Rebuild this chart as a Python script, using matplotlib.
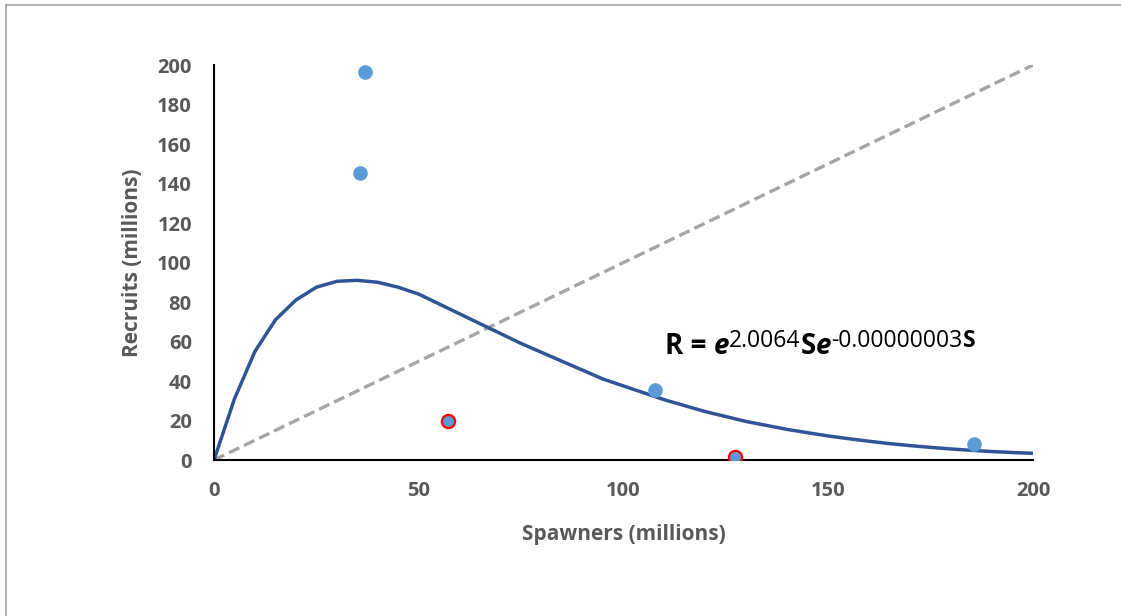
import matplotlib.pyplot as plt
from matplotlib.lines import Line2D

plt.rcParams['font.family'] = ['Open Sans', 'DejaVu Sans']

# observed stock-recruit points
spawners = [36.9, 35.7, 107.7, 185.6]
recruits = [196.5, 145.3, 35.4, 8.1]
# points flagged in red
flag_s = [57.1, 127.2]
flag_r = [19.7, 1.5]

# fitted Ricker curve
curve_s = [0, 5, 10, 15, 20, 25, 30, 35, 40, 45, 50, 55, 60, 65, 70, 75, 80, 85, 90, 95, 100,
           105, 110, 115, 120, 125, 130, 135, 140, 145, 150, 155, 160, 165, 170, 175, 180,
           185, 190, 195, 200]
curve_r = [0, 31, 55, 71, 81, 87.5, 90.5, 91, 90, 87.5, 84, 79, 74, 69, 64, 59, 54.5, 50, 45.5,
           41, 37.5, 34, 30.5, 27.5, 24.5, 22, 19.5, 17.5, 15.5, 13.8, 12.2, 10.8, 9.5, 8.3,
           7.3, 6.4, 5.6, 4.9, 4.3, 3.8, 3.4]

# replacement line R = S
rep = [0, 200]

# equation pieces: (text, size, weight, style, raise in points)
eq_parts = [('R = ', 20, 'bold', 'normal', 0),
            ('e', 20, 'bold', 'italic', 0),
            ('2.0064', 16.5, 'normal', 'normal', 6.0),
            ('S', 20, 'bold', 'normal', 0),
            ('e', 20, 'bold', 'italic', 0),
            ('-0.00000003', 16.5, 'normal', 'normal', 6.0),
            ('S', 16.5, 'bold', 'normal', 6.0)]

fig = plt.figure(figsize=(11.21, 6.16), dpi=100)
ax = fig.add_axes([0.1909, 0.2532, 0.7306, 0.6412])

ax.plot(rep, rep, color='#A5A5A5', lw=2.4, ls=(0, (3.4, 1.6)), zorder=1)
ax.plot(curve_s, curve_r, color='#2F5597', lw=2.5, zorder=2, solid_capstyle='butt')
ax.scatter(spawners, recruits, s=110, color='#5B9BD5', zorder=3, linewidths=0)
ax.scatter(flag_s, flag_r, s=90, color='#5B9BD5', edgecolors='#FF0000', linewidths=1.6, zorder=4)

ax.set_xlim(0, 200)
ax.set_ylim(0, 200)
ax.set_xticks(range(0, 201, 50))
ax.set_yticks(range(0, 201, 20))
ax.tick_params(length=0, labelsize=14.5, colors='#595959')
ax.tick_params(axis='x', pad=15)
ax.tick_params(axis='y', pad=16)
for lab in ax.get_xticklabels() + ax.get_yticklabels():
    lab.set_fontweight('bold')

for s in ['top', 'right']:
    ax.spines[s].set_visible(False)
for s in ['left', 'bottom']:
    ax.spines[s].set_color('black')
    ax.spines[s].set_linewidth(1.5)

ax.set_xlabel('Spawners (millions)', fontsize=15, fontweight='bold', color='#595959')
ax.set_ylabel('Recruits (millions)', fontsize=15, fontweight='bold', color='#595959')
ax.xaxis.set_label_coords(0.5, -0.162)
ax.yaxis.set_label_coords(-0.087, 0.5)

# equation, built piece by piece so superscripts keep plain hyphens
first = ax.text(110.1, 53.7, eq_parts[0][0], fontsize=eq_parts[0][1], fontweight=eq_parts[0][2],
                fontstyle=eq_parts[0][3], color='black', va='baseline', ha='left')
prev = first
for txt, size, weight, style, dy in eq_parts[1:]:
    prev = ax.annotate(txt, xy=(1, 0), xycoords=(prev, first), xytext=(0, dy),
                       textcoords='offset points', fontsize=size, fontweight=weight,
                       fontstyle=style, color='black', va='bottom', ha='left')

# chart border
fig.add_artist(Line2D([5.5 / 1121, 1], [1 - 5 / 616, 1 - 5 / 616], color='#A6A6A6', lw=1.2))
fig.add_artist(Line2D([5.5 / 1121, 5.5 / 1121], [0, 1 - 5 / 616], color='#A6A6A6', lw=1.2))

fig.savefig('out.png', dpi=100)
